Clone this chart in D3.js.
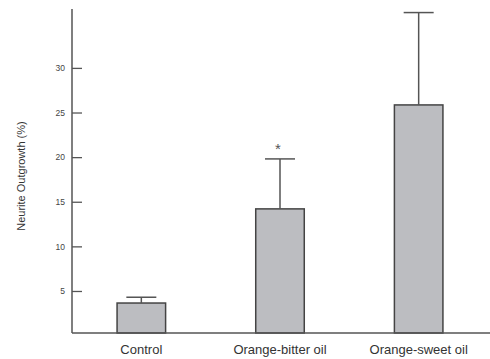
<!DOCTYPE html>
<html>
<head>
<meta charset="utf-8">
<script src="https://cdn.jsdelivr.net/npm/d3@7"></script>
<style>
  body { margin: 0; background: #fff; }
  text { font-family: "Liberation Sans", Arial, sans-serif; }
</style>
</head>
<body>
<div id="chart"></div>
<script>
// data
const categories = ["Control", "Orange-bitter oil", "Orange-sweet oil"];
const means = [3.65, 14.2, 25.85];
const errors = [0.65, 5.6, 10.35];
const significant = [false, true, false];
const yTicks = [5, 10, 15, 20, 25, 30];

const width = 490;
const height = 359;
const margin = { top: 9, right: 0, bottom: 24, left: 72 };

const svg = d3.select("#chart")
    .append("svg")
        .attr("width", width)
        .attr("height", height);

const x = d3.scaleBand()
    .domain(categories)
    .range([margin.left, 488])
    .paddingInner(0.65)
    .paddingOuter(0.325);

const y = d3.scaleLinear()
    .domain([0, 36.6])
    .range([335.6, margin.top]);

const axisColor = "#555";

// y axis (ticks point inward)
const yAxis = svg.append("g")
    .attr("transform", `translate(${margin.left},0)`)
    .call(d3.axisRight(y).tickValues(yTicks).tickSize(10).tickFormat(d3.format("d")));
yAxis.select(".domain").remove();
yAxis.selectAll(".tick line").attr("stroke", axisColor).attr("stroke-width", 1.3);
yAxis.selectAll(".tick text")
    .attr("x", -7)
    .attr("text-anchor", "end")
    .attr("fill", "#444")
    .attr("font-size", 8.5);

svg.append("line")
    .attr("x1", margin.left).attr("x2", margin.left)
    .attr("y1", margin.top).attr("y2", 333)
    .attr("stroke", axisColor).attr("stroke-width", 1.5);

// bars
svg.append("g")
    .selectAll("rect")
    .data(categories)
    .join("rect")
        .attr("x", d => x(d))
        .attr("width", x.bandwidth())
        .attr("y", (d, i) => y(means[i]))
        .attr("height", (d, i) => 333 - y(means[i]))
        .attr("fill", "#bcbdc1")
        .attr("stroke", "#444")
        .attr("stroke-width", 1.5);

// error bars
const err = svg.append("g")
    .attr("stroke", "#555")
    .attr("stroke-width", 1.5);

err.selectAll(".stem")
    .data(categories)
    .join("line")
        .attr("class", "stem")
        .attr("x1", d => x(d) + x.bandwidth() / 2)
        .attr("x2", d => x(d) + x.bandwidth() / 2)
        .attr("y1", (d, i) => y(means[i]))
        .attr("y2", (d, i) => y(means[i] + errors[i]));

err.selectAll(".cap")
    .data(categories)
    .join("line")
        .attr("class", "cap")
        .attr("x1", d => x(d) + x.bandwidth() / 2 - 15)
        .attr("x2", d => x(d) + x.bandwidth() / 2 + 15)
        .attr("y1", (d, i) => y(means[i] + errors[i]))
        .attr("y2", (d, i) => y(means[i] + errors[i]));

// significance marks
svg.append("g")
    .selectAll("text")
    .data(categories.filter((d, i) => significant[i]))
    .join("text")
        .attr("x", d => x(d) + x.bandwidth() / 2 - 2)
        .attr("y", d => y(means[categories.indexOf(d)] + errors[categories.indexOf(d)]) - 5)
        .attr("text-anchor", "middle")
        .attr("font-size", 15)
        .attr("fill", "#555")
        .text("*");

// x axis baseline
svg.append("line")
    .attr("x1", margin.left).attr("x2", width)
    .attr("y1", 333).attr("y2", 333)
    .attr("stroke", axisColor).attr("stroke-width", 1.5);

// x labels
svg.append("g")
    .selectAll("text")
    .data(categories)
    .join("text")
        .attr("x", d => x(d) + x.bandwidth() / 2)
        .attr("y", 354)
        .attr("text-anchor", "middle")
        .attr("font-size", 13)
        .attr("fill", "#333")
        .text(d => d);

// y label
svg.append("text")
    .attr("transform", "translate(25,176) rotate(-90)")
    .attr("text-anchor", "middle")
    .attr("font-size", 11)
    .attr("fill", "#333")
    .text("Neurite Outgrowth (%)");
</script>
</body>
</html>
